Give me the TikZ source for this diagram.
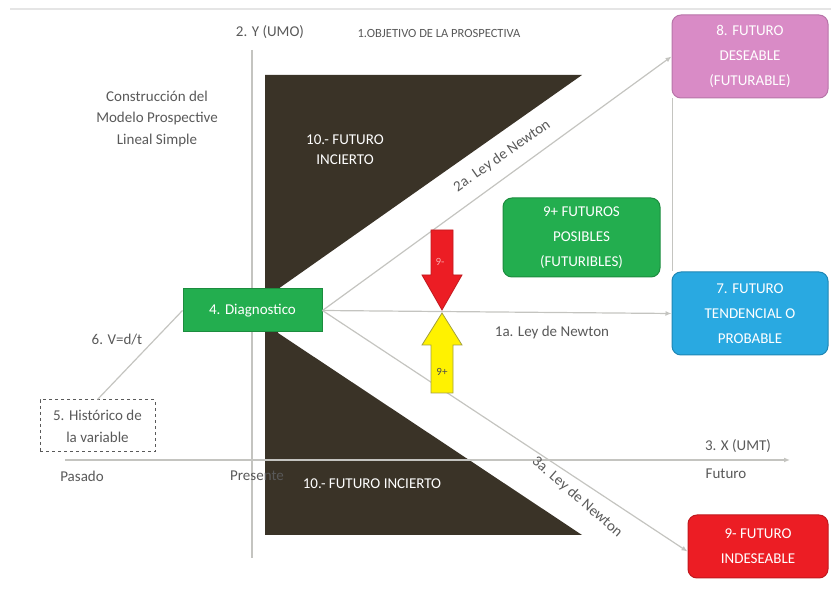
\documentclass[tikz,border=0pt]{standalone}
\usepackage{fontspec}
\setmainfont{Carlito}
\usetikzlibrary{arrows.meta,calc}
\definecolor{txtgray}{HTML}{595959}
\definecolor{lngray}{HTML}{C4C4C0}
\definecolor{darkfill}{HTML}{3A3327}
\definecolor{gfill}{HTML}{23AE4F}
\definecolor{gdraw}{HTML}{1C8C3E}
\definecolor{pfill}{HTML}{D98BC6}
\definecolor{pdraw}{HTML}{B774A8}
\definecolor{bfill}{HTML}{29A9E1}
\definecolor{bdraw}{HTML}{1E86B4}
\definecolor{rfill}{HTML}{EC1D24}
\definecolor{rdraw}{HTML}{C0181D}
\definecolor{yfill}{HTML}{FFF200}
\definecolor{ydraw}{HTML}{A3A040}
\begin{document}
\begin{tikzpicture}[x=1pt,y=-1pt,
  lbl/.style={text=txtgray,font=\fontsize{15}{19}\selectfont,inner sep=0pt,align=center},
  wlbl/.style={text=white,font=\fontsize{15}{20}\selectfont,inner sep=0pt,align=center},
  futbox/.style={rounded corners=9pt,line width=1pt,text=white,align=center,
     font=\fontsize{15}{25}\selectfont,inner sep=0pt},
  conn/.style={draw=lngray,line width=1.2pt},
  arr/.style={conn,-{Latex[length=6pt,width=5pt]}}]
\useasboundingbox (0,0) rectangle (831,593);
% top faint rule
\coordinate (tl) at (10,9);
\coordinate (tr) at (831,9);
\draw[gray!20,line width=2.5pt] (tl) -- (tr);
% dark uncertain-future shape
\fill[darkfill] (265,75) -- (582,75) -- (278,289) -- (278,333) -- (582,535) -- (265,535) -- cycle;
% axes
\coordinate (ytop) at (252,50);
\coordinate (ybot) at (252,558);
\coordinate (xl) at (65,460);
\coordinate (xr) at (790,460);
\draw[conn] (ytop) -- (ybot);
\draw[arr] (xl) -- (xr);
% boxes
\node[draw=gdraw,fill=gfill,line width=1pt,minimum width=139pt,minimum height=43pt,inner sep=0pt,
  text=white,font=\fontsize{15}{19}\selectfont] (diag) at (252.5,310.5) {4. Diagnostico};
\node[futbox,draw=pdraw,fill=pfill,minimum width=156pt,minimum height=83pt] (pink) at (750,56.5)
  {8. FUTURO\\DESEABLE\\(FUTURABLE)};
\node[futbox,draw=bdraw,fill=bfill,minimum width=156pt,minimum height=83pt] (blue) at (750,313.5)
  {7. FUTURO\\TENDENCIAL O\\PROBABLE};
\node[futbox,draw=rdraw,fill=rfill,minimum width=140pt,minimum height=63pt] (red) at (758,546.5)
  {9- FUTURO\\INDESEABLE};
\node[futbox,draw=gdraw,fill=gfill,minimum width=157pt,minimum height=79pt] (pos) at (581.5,237.5)
  {9+ FUTUROS\\POSIBLES\\(FUTURIBLES)};
\node[draw=txtgray,dashed,line width=1pt,minimum width=115pt,minimum height=52pt,inner sep=0pt,
  text=txtgray,align=center,font=\fontsize{15}{22}\selectfont] (hist) at (97.5,426)
  {5. Histórico de\\la variable};
% connectors
\draw[arr] (diag.east) -- (pink.west);
\draw[arr] (diag.east) -- (blue.west);
\draw[arr] (diag.east) -- ($(red.west)+(0,5)$);
\draw[conn] (hist.north) -- (diag.west);
\draw[conn] ($(pink.south west)+(1,0)$) -- ($(blue.north west)+(1,0)$);
% red and yellow arrows
\draw[fill=rfill,draw=rdraw,line width=0.8pt] (431,230) -- (453,230) -- (453,275) -- (462,275) -- (442,310) -- (422,275) -- (431,275) -- cycle;
\draw[fill=yfill,draw=ydraw,line width=0.8pt] (431,393) -- (453,393) -- (453,345) -- (462,345) -- (442,313) -- (422,345) -- (431,345) -- cycle;
\node[text=rfill!40!white,font=\fontsize{11}{13}\selectfont,inner sep=0pt] (minus) at (440,262) {9-};
\node[text=black!70,font=\fontsize{11}{13}\selectfont,inner sep=0pt] (plus) at (442,372) {9+};
% labels
\node[lbl] (ylab) at (270,32) {2. Y (UMO)};
\node[lbl,font=\fontsize{12.5}{15}\selectfont] (obj) at (439,33) {1.OBJETIVO DE LA PROSPECTIVA};
\node[lbl,font=\fontsize{15}{21.5}\selectfont] (title) at (157,119) {Construcción del\\Modelo Prospective\\Lineal Simple};
\node[wlbl] (inc1) at (345,150) {10.- FUTURO\\INCIERTO};
\node[wlbl] (inc2) at (372,484) {10.- FUTURO INCIERTO};
\node[lbl,rotate=35] (law2) at (502,156) {2a. Ley de Newton};
\node[lbl] (law1) at (552,333) {1a. Ley de Newton};
\node[lbl,rotate=-41] (law3) at (577,497) {3a. Ley de Newton};
\node[lbl] (vdt) at (117,340) {6. V=d/t};
\node[lbl] (pas) at (82,476) {Pasado};
\node[lbl] (pres) at (257,476) {Presente};
\node[lbl] (xlab) at (738,446) {3. X (UMT)};
\node[lbl] (fut) at (726,474) {Futuro};
\end{tikzpicture}
\end{document}
